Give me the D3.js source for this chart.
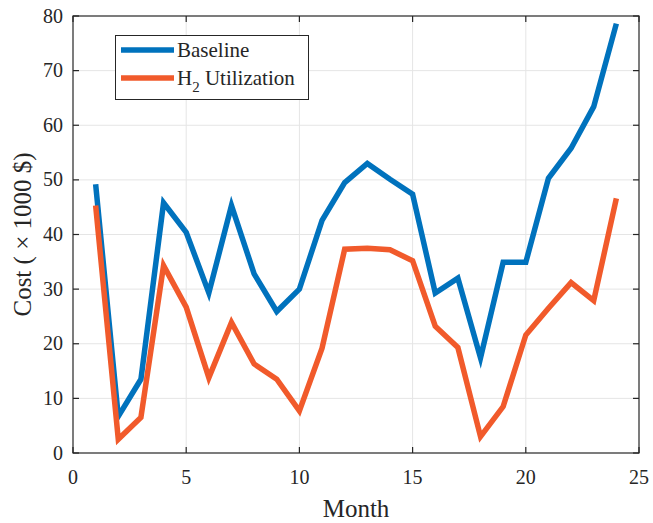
<!DOCTYPE html>
<html>
<head>
<meta charset="utf-8">
<script src="https://cdn.jsdelivr.net/npm/d3@7"></script>
<style>
  html, body { margin: 0; padding: 0; background: #fff; }
  svg { display: block; }
  text { fill: #262626; }
</style>
</head>
<body>
<svg id="chart" width="653" height="523" font-family="'Liberation Serif', 'Times New Roman', serif"></svg>
<script>
// Monthly cost, thousands of dollars
const months = d3.range(1, 25);
const baseline = [49.2, 6.7, 13.5, 45.8, 40.4, 29.3, 45.3, 32.8, 25.9, 30.0, 42.6, 49.5,
                  53.0, 50.1, 47.4, 29.3, 32.0, 17.4, 34.9, 34.9, 50.3, 55.8, 63.4, 78.6];
const h2 = [45.3, 2.5, 6.5, 34.3, 26.7, 13.8, 23.9, 16.3, 13.5, 7.7, 19.2, 37.3,
            37.5, 37.2, 35.2, 23.2, 19.3, 3.0, 8.5, 21.6, 26.5, 31.2, 27.9, 46.6];
const xTicks = [0, 5, 10, 15, 20, 25];
const yTicks = [0, 10, 20, 30, 40, 50, 60, 70, 80];
const colors = ["#0072BD", "#F15A2B"];

const svg = d3.select("#chart");
const m = { left: 73, right: 14, top: 16, bottom: 70 };
const W = 653, H = 523;
const x = d3.scaleLinear().domain([0, 25]).range([m.left, W - m.right]);
const y = d3.scaleLinear().domain([0, 80]).range([H - m.bottom, m.top]);

// grid
const grid = svg.append("g").attr("stroke", "#e5e5e5").attr("stroke-width", 1);
grid.selectAll("line.v").data(xTicks.slice(1, -1)).join("line")
  .attr("x1", d => x(d)).attr("x2", d => x(d))
  .attr("y1", y(0)).attr("y2", y(80));
grid.selectAll("line.h").data(yTicks.slice(1, -1)).join("line")
  .attr("x1", x(0)).attr("x2", x(25))
  .attr("y1", d => y(d)).attr("y2", d => y(d));

// lines
const line = d3.line().x((d, i) => x(months[i])).y(d => y(d));
[baseline, h2].forEach((s, k) => {
  svg.append("path").datum(s)
    .attr("fill", "none").attr("stroke", colors[k])
    .attr("stroke-width", 5.5).attr("stroke-linejoin", "miter")
    .attr("d", line);
});

// axes (box with inward ticks)
const tickLen = 6;
const axG = svg.append("g").attr("stroke", "#262626").attr("stroke-width", 1.2);
axG.append("rect").attr("x", x(0)).attr("y", y(80))
  .attr("width", x(25) - x(0)).attr("height", y(0) - y(80)).attr("fill", "none");
xTicks.forEach(t => {
  axG.append("line").attr("x1", x(t)).attr("x2", x(t)).attr("y1", y(0)).attr("y2", y(0) - tickLen);
  axG.append("line").attr("x1", x(t)).attr("x2", x(t)).attr("y1", y(80)).attr("y2", y(80) + tickLen);
});
yTicks.forEach(t => {
  axG.append("line").attr("y1", y(t)).attr("y2", y(t)).attr("x1", x(0)).attr("x2", x(0) + tickLen);
  axG.append("line").attr("y1", y(t)).attr("y2", y(t)).attr("x1", x(25)).attr("x2", x(25) - tickLen);
});

// tick labels
svg.append("g").selectAll("text").data(xTicks).join("text")
  .attr("x", d => x(d)).attr("y", y(0) + 31)
  .attr("text-anchor", "middle").attr("font-size", 20).text(d => d);
svg.append("g").selectAll("text").data(yTicks).join("text")
  .attr("x", x(0) - 10).attr("y", d => y(d) + 6.5)
  .attr("text-anchor", "end").attr("font-size", 20).text(d => d);

// axis titles
svg.append("text").attr("x", (x(0) + x(25)) / 2).attr("y", 517)
  .attr("text-anchor", "middle").attr("font-size", 25).text("Month");
svg.append("text")
  .attr("transform", `translate(31,${(y(0) + y(80)) / 2}) rotate(-90)`)
  .attr("text-anchor", "middle").attr("font-size", 25).text("Cost ( \u00d7 1000 $)");

// legend
const lg = svg.append("g");
lg.append("rect").attr("x", 115.5).attr("y", 35.5).attr("width", 193).attr("height", 64)
  .attr("fill", "#fff").attr("stroke", "#262626").attr("stroke-width", 1);
[0, 1].forEach(k => {
  const yy = 50 + k * 28;
  lg.append("line").attr("x1", 121).attr("x2", 174).attr("y1", yy).attr("y2", yy)
    .attr("stroke", colors[k]).attr("stroke-width", 5.5);
});
lg.append("text").attr("x", 177).attr("y", 57).attr("font-size", 21).text("Baseline");
const t2 = lg.append("text").attr("x", 177).attr("y", 85).attr("font-size", 21);
t2.append("tspan").text("H");
t2.append("tspan").attr("font-size", 15).attr("dy", 7).text("2");
t2.append("tspan").attr("dy", -7).text(" Utilization");
</script>
</body>
</html>
